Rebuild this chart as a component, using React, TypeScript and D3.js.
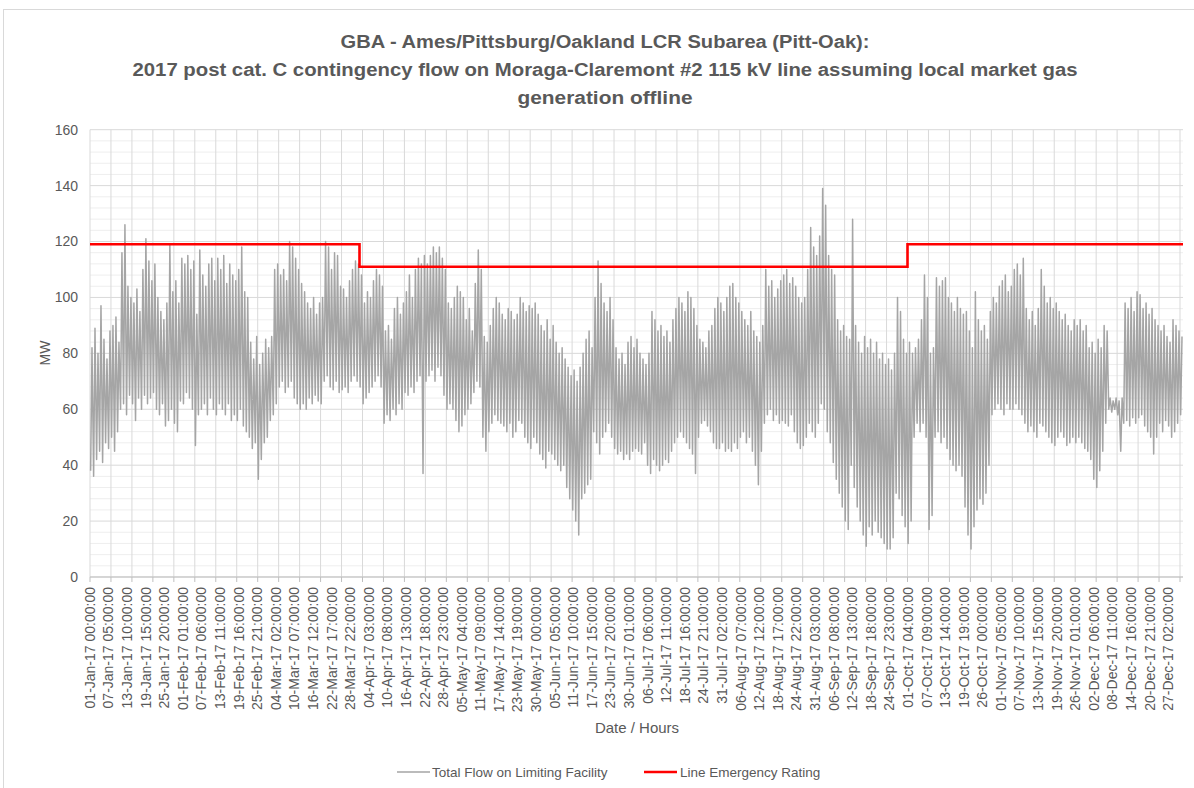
import React from 'react';
import * as d3 from 'd3';

const titleLines = [
  'GBA - Ames/Pittsburg/Oakland LCR Subarea (Pitt-Oak):',
  '2017 post cat. C contingency flow on Moraga-Claremont #2 115 kV line assuming local market gas',
  'generation offline',
];
const titleWidths = [529, 945, 175];

const tickLabels = [
  '01-Jan-17 00:00:00', '07-Jan-17 05:00:00', '13-Jan-17 10:00:00', '19-Jan-17 15:00:00', '25-Jan-17 20:00:00',
  '01-Feb-17 01:00:00', '07-Feb-17 06:00:00', '13-Feb-17 11:00:00', '19-Feb-17 16:00:00', '25-Feb-17 21:00:00',
  '04-Mar-17 02:00:00', '10-Mar-17 07:00:00', '16-Mar-17 12:00:00', '22-Mar-17 17:00:00', '28-Mar-17 22:00:00',
  '04-Apr-17 03:00:00', '10-Apr-17 08:00:00', '16-Apr-17 13:00:00', '22-Apr-17 18:00:00', '28-Apr-17 23:00:00',
  '05-May-17 04:00:00', '11-May-17 09:00:00', '17-May-17 14:00:00', '23-May-17 19:00:00', '30-May-17 00:00:00',
  '05-Jun-17 05:00:00', '11-Jun-17 10:00:00', '17-Jun-17 15:00:00', '23-Jun-17 20:00:00', '30-Jun-17 01:00:00',
  '06-Jul-17 06:00:00', '12-Jul-17 11:00:00', '18-Jul-17 16:00:00', '24-Jul-17 21:00:00', '31-Jul-17 02:00:00',
  '06-Aug-17 07:00:00', '12-Aug-17 12:00:00', '18-Aug-17 17:00:00', '24-Aug-17 22:00:00', '31-Aug-17 03:00:00',
  '06-Sep-17 08:00:00', '12-Sep-17 13:00:00', '18-Sep-17 18:00:00', '24-Sep-17 23:00:00',
  '01-Oct-17 04:00:00', '07-Oct-17 09:00:00', '13-Oct-17 14:00:00', '19-Oct-17 19:00:00', '26-Oct-17 00:00:00',
  '01-Nov-17 05:00:00', '07-Nov-17 10:00:00', '13-Nov-17 15:00:00', '19-Nov-17 20:00:00', '26-Nov-17 01:00:00',
  '02-Dec-17 06:00:00', '08-Dec-17 11:00:00', '14-Dec-17 16:00:00', '20-Dec-17 21:00:00', '27-Dec-17 02:00:00',
];
const tickLabelStepHours = 149;
const gridStepHours = 168;
const totalHours = 8760;

const yTicks = [0, 20, 40, 60, 80, 100, 120, 140, 160];
const yMinorStep = 4;

// daily peak flow (MW), one row per week starting 01-Jan-17
const dailyHigh = [
  82, 89, 80, 97, 85, 78, 88,
  90, 93, 84, 116, 126, 104, 100,
  98, 103, 95, 110, 121, 113, 106,
  112, 100, 95, 92, 98, 119, 102,
  106, 98, 114, 112, 115, 110, 113,
  94, 117, 108, 104, 112, 114, 106,
  114, 110, 115, 105, 112, 108, 106,
  110, 118, 102, 100, 84, 78, 86,
  76, 80, 85, 82, 86, 110, 112,
  108, 110, 106, 120, 118, 114, 110,
  105, 102, 98, 96, 100, 94, 98,
  100, 120, 118, 110, 116, 115, 104,
  103, 100, 106, 110, 113, 112, 108,
  98, 102, 100, 106, 110, 108, 104,
  88, 90, 85, 96, 100, 94, 98,
  102, 108, 100, 110, 114, 112, 115,
  112, 115, 118, 116, 118, 114, 110,
  98, 96, 100, 104, 102, 100, 92,
  96, 88, 105, 117, 110, 86, 84,
  90, 96, 100, 98, 94, 92, 96,
  95, 92, 94, 100, 98, 95, 97,
  96, 98, 94, 90, 88, 92, 85,
  90, 84, 80, 82, 78, 75, 72,
  74, 70, 75, 80, 85, 88, 82,
  100, 113, 105, 98, 95, 100, 92,
  82, 78, 80, 76, 84, 86, 82,
  85, 80, 78, 76, 80, 95, 92,
  88, 90, 86, 88, 84, 92, 96,
  100, 98, 95, 102, 100, 96, 90,
  85, 84, 82, 88, 90, 96, 100,
  98, 95, 100, 104, 105, 100, 98,
  95, 92, 90, 95, 88, 86, 84,
  90, 110, 104, 106, 100, 103, 106,
  108, 110, 105, 107, 104, 100, 98,
  100, 110, 125, 118, 115, 122, 139,
  133, 115, 110, 108, 92, 88, 90,
  86, 85, 128, 90, 84, 80, 86,
  82, 85, 80, 84, 78, 80, 76,
  78, 74, 80, 100, 95, 85, 80,
  84, 80, 82, 85, 92, 108, 100,
  80, 82, 107, 104, 106, 107, 100,
  98, 95, 100, 96, 94, 95, 88,
  82, 102, 92, 88, 90, 85, 95,
  100, 98, 104, 106, 108, 102, 104,
  110, 112, 108, 114, 96, 92, 95,
  90, 96, 110, 104, 98, 100, 96,
  98, 95, 92, 94, 90, 88, 92,
  90, 92, 88, 90, 82, 84, 80,
  85, 82, 90, 88, 64, 63, 64,
  63, 64, 98, 96, 100, 95, 102,
  101, 96, 98, 94, 96, 92, 90,
  88, 90, 86, 84, 92, 90, 88, 86,
];

// daily minimum flow (MW), one row per week starting 01-Jan-17
const dailyLow = [
  38, 36, 42, 45, 41, 48, 46,
  50, 45, 52, 60, 62, 58, 65,
  62, 56, 64, 60, 65, 62, 64,
  66, 60, 58, 62, 54, 56, 60,
  55, 52, 63, 62, 66, 64, 60,
  47, 58, 60, 62, 58, 64, 60,
  58, 62, 60, 58, 62, 56, 58,
  56, 60, 54, 52, 50, 46, 48,
  35, 42, 48, 50, 56, 58, 62,
  68, 70, 66, 68, 70, 64, 62,
  60, 62, 60, 64, 62, 65, 63,
  62, 70, 72, 68, 67, 70, 66,
  67, 68, 66, 70, 72, 70, 68,
  62, 64, 66, 68, 70, 72, 68,
  55, 58, 56, 60, 58, 62, 60,
  66, 65, 68, 66, 70, 72, 37,
  70, 72, 74, 70, 75, 72, 65,
  60, 62, 60, 56, 52, 54, 58,
  60, 62, 66, 70, 68, 50, 45,
  52, 55, 58, 56, 55, 54, 52,
  55, 50, 52, 56, 55, 50, 48,
  46, 50, 48, 44, 42, 39, 45,
  44, 42, 40, 38, 40, 32, 28,
  24, 20, 15, 28, 30, 33, 35,
  52, 48, 44, 50, 52, 55, 50,
  46, 44, 45, 42, 44, 42, 45,
  46, 45, 44, 48, 40, 37, 42,
  40, 38, 40, 42, 41, 45, 48,
  50, 52, 50, 48, 46, 44, 37,
  50, 55, 56, 54, 52, 48, 46,
  46, 48, 45, 46, 45, 48, 46,
  50, 52, 48, 50, 45, 40, 33,
  45, 55, 58, 60, 56, 58, 55,
  56, 55, 54, 58, 52, 48, 46,
  47, 50, 55, 52, 50, 55, 62,
  60, 52, 48, 41, 35, 30, 25,
  20, 17, 40, 32, 25, 20, 15,
  11, 18, 15, 20, 16, 14, 12,
  10, 10, 14, 30, 28, 22, 18,
  12, 20, 50, 55, 52, 55, 50,
  17, 22, 50, 52, 48, 50, 46,
  42, 40, 38, 40, 36, 25, 15,
  10, 18, 24, 28, 26, 30, 40,
  58, 60, 62, 60, 58, 62, 60,
  60, 62, 60, 58, 55, 52, 54,
  52, 50, 55, 54, 52, 50, 48,
  47, 50, 52, 50, 47, 48, 50,
  48, 50, 48, 46, 45, 42, 35,
  32, 38, 45, 55, 60, 59, 60,
  58, 45, 55, 56, 54, 57, 55,
  57, 58, 54, 52, 50, 44, 50,
  55, 52, 56, 54, 50, 52, 55, 58,
];

const lowHour = 5;
const highHour = 16;

const ratingStartHour = [0, 2160, 6552];
const ratingValue = [119, 111, 119];

const seriesNames = ['Total Flow on Limiting Facility', 'Line Emergency Rating'];
const seriesColors = ['#a5a5a5', '#ff0000'];

const W = 1194;
const H = 788;
const plot = { left: 90, right: 1183, top: 129.7, bottom: 577 };
const textColor = '#595959';
const font = "'Liberation Sans', Arial, sans-serif";

export default function App() {
  const x = d3.scaleLinear().domain([0, totalHours]).range([plot.left, plot.right]);
  const y = d3.scaleLinear().domain([0, 160]).range([plot.bottom, plot.top]);

  const flowPts: { h: number; v: number }[] = [];
  const n = Math.min(dailyHigh.length, dailyLow.length);
  for (let d = 0; d < n; d++) {
    flowPts.push({ h: d * 24 + lowHour, v: dailyLow[d] });
    flowPts.push({ h: d * 24 + highHour, v: dailyHigh[d] });
  }
  const flowLine = d3.line<{ h: number; v: number }>().x((p) => x(p.h)).y((p) => y(p.v));

  const ratingPts = ratingStartHour.map((h, i) => ({ h, v: ratingValue[i] }));
  ratingPts.push({ h: totalHours, v: ratingValue[ratingValue.length - 1] });
  const ratingLine = d3
    .line<{ h: number; v: number }>()
    .x((p) => x(p.h))
    .y((p) => y(p.v))
    .curve(d3.curveStepAfter);

  const gridHours = d3.range(0, totalHours, gridStepHours);
  const minorY = d3.range(0, 160 + 0.001, yMinorStep).filter((v) => v % 20 !== 0);

  return (
    <svg
      width={W}
      height={H}
      style={{ position: 'absolute', left: 0, top: 0, background: '#fff' }}
      fontFamily={font}
    >
      <rect x={0} y={0} width={W} height={H} fill="#fff" />
      <rect x={3.5} y={9.5} width={1300} height={900} fill="none" stroke="#d9d9d9" />
      {titleLines.map((t, i) => (
        <text
          key={i}
          x={605}
          y={48 + i * 28}
          textAnchor="middle"
          fontSize={18}
          fontWeight="bold"
          fill={textColor}
          textLength={titleWidths[i]}
          lengthAdjust="spacingAndGlyphs"
        >
          {t}
        </text>
      ))}

      {/* minor horizontal gridlines */}
      {minorY.map((v) => (
        <line key={'mn' + v} x1={plot.left} x2={plot.right} y1={y(v)} y2={y(v)} stroke="#eeeeee" strokeWidth={1} />
      ))}
      {/* vertical gridlines */}
      {gridHours.map((h) => (
        <line key={'vg' + h} x1={x(h)} x2={x(h)} y1={plot.top} y2={plot.bottom} stroke="#d9d9d9" strokeWidth={1} />
      ))}
      {/* major horizontal gridlines */}
      {yTicks.map((v) => (
        <line key={'mj' + v} x1={plot.left} x2={plot.right} y1={y(v)} y2={y(v)} stroke="#d9d9d9" strokeWidth={1} />
      ))}
      {/* x axis line and ticks */}
      <line x1={plot.left} x2={plot.right} y1={plot.bottom} y2={plot.bottom} stroke="#bfbfbf" />
      {gridHours.map((h) => (
        <line key={'tk' + h} x1={x(h)} x2={x(h)} y1={plot.bottom} y2={plot.bottom + 5} stroke="#bfbfbf" />
      ))}

      {/* y tick labels */}
      {yTicks.map((v) => (
        <text key={'yt' + v} x={78} y={y(v)} dy="0.35em" textAnchor="end" fontSize={14} fill={textColor}>
          {v}
        </text>
      ))}
      <text
        transform={`translate(45, 353) rotate(-90)`}
        textAnchor="middle"
        dy="0.35em"
        fontSize={14}
        fill={textColor}
      >
        MW
      </text>

      {/* x tick labels */}
      {tickLabels.map((t, i) => (
        <text
          key={'xl' + i}
          transform={`translate(${x(i * tickLabelStepHours)}, 587) rotate(-90)`}
          textAnchor="end"
          dy="0.35em"
          fontSize={14}
          fill={textColor}
        >
          {t}
        </text>
      ))}
      <text x={637} y={728} dy="0.35em" textAnchor="middle" fontSize={15} fill={textColor}>
        Date / Hours
      </text>

      {/* series */}
      <path d={flowLine(flowPts) || ''} fill="none" stroke={seriesColors[0]} strokeWidth={1.5} strokeLinejoin="round" />
      <path d={ratingLine(ratingPts) || ''} fill="none" stroke={seriesColors[1]} strokeWidth={2.6} />

      {/* legend */}
      <line x1={397} x2={430} y1={772} y2={772} stroke={seriesColors[0]} strokeWidth={1.3} />
      <text x={432} y={772} dy="0.35em" fontSize={13.5} fill={textColor}>
        {seriesNames[0]}
      </text>
      <line x1={644} x2={677} y1={772} y2={772} stroke={seriesColors[1]} strokeWidth={2.6} />
      <text x={680} y={772} dy="0.35em" fontSize={13.5} fill={textColor}>
        {seriesNames[1]}
      </text>
    </svg>
  );
}
